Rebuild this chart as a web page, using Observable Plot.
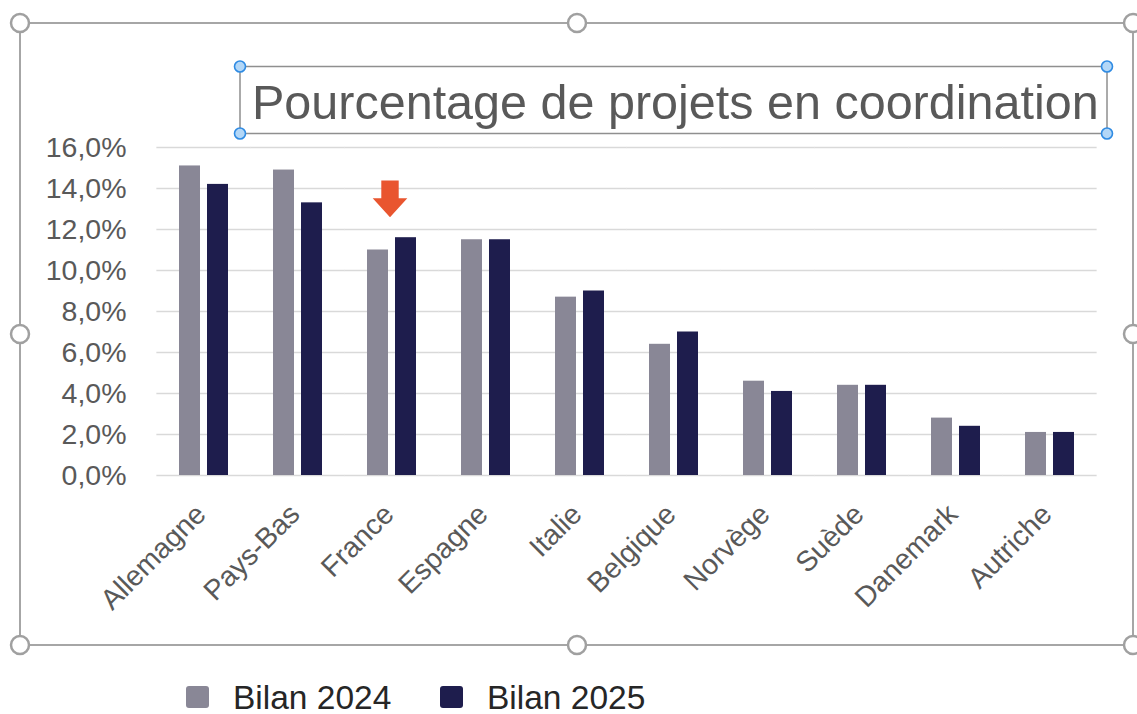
<!DOCTYPE html>
<html>
<head>
<meta charset="utf-8">
<script src="https://cdn.jsdelivr.net/npm/d3@7"></script>
<script src="https://cdn.jsdelivr.net/npm/@observablehq/plot@0.6"></script>
<style>
  html, body { margin: 0; padding: 0; background: #fff; }
  #wrap { position: relative; width: 1137px; height: 714px; overflow: hidden; background: #fff;
          font-family: "Liberation Sans", Arial, sans-serif; }
  #wrap > svg { position: absolute; left: 0; top: 0; }
</style>
</head>
<body>
<div id="wrap"></div>
<script>
// ---- data ----
const countries = ["Allemagne", "Pays-Bas", "France", "Espagne", "Italie", "Belgique", "Norvège", "Suède", "Danemark", "Autriche"];
const series = ["Bilan 2024", "Bilan 2025"];
const values2024 = [15.1, 14.9, 11.0, 11.5, 8.7, 6.4, 4.6, 4.4, 2.8, 2.1];
const values2025 = [14.2, 13.3, 11.6, 11.5, 9.0, 7.0, 4.1, 4.4, 2.4, 2.1];
const yTicks = [0, 2, 4, 6, 8, 10, 12, 14, 16];
const seriesColors = ["#898796", "#1e1d4d"];
const title = "Pourcentage de projets en coordination";
const highlight = [{country: "France", y: 13.5}];

const data = countries.flatMap((c, i) => [
  {country: c, series: series[0], value: values2024[i]},
  {country: c, series: series[1], value: values2025[i]}
]);

const FONT = '"Liberation Sans", Arial, sans-serif';

// layout of the facet bands
const W = 1137, ML = 155, MR = 39;
const padIn = 0.48, padOut = 0.24;
const step = (W - ML - MR) / (countries.length - padIn + 2 * padOut);
const gridExtend = step * padIn / 2; // half of the gap between facets

// down-arrow symbol for the highlight
const arrowSymbol = {
  draw(ctx) {
    ctx.moveTo(-8.7, -18.3);
    ctx.lineTo(8.7, -18.3);
    ctx.lineTo(8.7, -0.5);
    ctx.lineTo(17.3, -0.5);
    ctx.lineTo(0, 18.4);
    ctx.lineTo(-17.3, -0.5);
    ctx.lineTo(-8.7, -0.5);
    ctx.closePath();
  }
};

const chart = Plot.plot({
  width: W,
  height: 645,
  marginTop: 147,
  marginBottom: 170,
  marginLeft: ML,
  marginRight: MR,
  style: {fontFamily: FONT, background: "transparent", overflow: "visible"},
  facet: {marginTop: 0, marginBottom: 0, marginLeft: 0, marginRight: 0},
  fx: {domain: countries, paddingInner: padIn, paddingOuter: padOut, axis: null, label: null},
  x: {domain: series, paddingInner: 0.25, paddingOuter: 0, axis: null},
  y: {domain: [0, 16], axis: null},
  color: {domain: series, range: seriesColors},
  marks: [
    Plot.ruleY(yTicks, {stroke: "#d9d9d9", strokeWidth: 1.6, insetLeft: -gridExtend, insetRight: -gridExtend}),
    Plot.barY(data, {fx: "country", x: "series", y: "value", fill: "series"}),
    Plot.dot(highlight, {fx: "country", y: "y", symbol: arrowSymbol, r: 10, fill: "#e9552f", stroke: null, dx: -2}),
    Plot.axisY({ticks: yTicks, tickFormat: d => d.toFixed(1).replace(".", ",") + "%", tickSize: 0, tickPadding: 53,
                fontSize: 28.5, fill: "#595959", label: null}),
    Plot.axisFx({anchor: "bottom", tickRotate: -45, tickSize: 0, tickPadding: 34, dx: -3, fontSize: 28.5,
                 fill: "#595959", label: null})
  ]
});

const wrap = document.getElementById("wrap");
wrap.appendChild(chart);

// ---- overlay: selection frame, title box, legend ----
const svg = d3.select(wrap).append("svg")
  .attr("width", 1137).attr("height", 714)
  .style("font-family", FONT);

svg.append("rect").attr("x", 20).attr("y", 23).attr("width", 1113).attr("height", 622)
  .attr("fill", "none").attr("stroke", "#a6a6a6").attr("stroke-width", 2);
const handles = [[20, 23], [577, 23], [1133, 23], [20, 334], [1133, 334], [20, 645], [577, 645], [1133, 645]];
svg.selectAll("circle.h").data(handles).join("circle").attr("class", "h")
  .attr("cx", d => d[0]).attr("cy", d => d[1]).attr("r", 9)
  .attr("fill", "#fff").attr("stroke", "#a0a0a0").attr("stroke-width", 2.5);

svg.append("rect").attr("x", 240).attr("y", 66.5).attr("width", 867).attr("height", 67)
  .attr("fill", "none").attr("stroke", "#8f8f8f").attr("stroke-width", 1.5);
svg.append("text").attr("x", 252).attr("y", 118.5).attr("font-size", 48.5).attr("fill", "#595959")
  .text(title);
const th = [[240, 66.5], [1107, 66.5], [240, 133.5], [1107, 133.5]];
svg.selectAll("circle.t").data(th).join("circle").attr("class", "t")
  .attr("cx", d => d[0]).attr("cy", d => d[1]).attr("r", 5.5)
  .attr("fill", "#b3d7f7").attr("stroke", "#2f8be3").attr("stroke-width", 1.6);

const legendX = [186, 440];
series.forEach((s, i) => {
  const g = svg.append("g").attr("transform", `translate(${legendX[i]},0)`);
  g.append("rect").attr("x", 0).attr("y", 686).attr("width", 23).attr("height", 22).attr("rx", 3)
    .attr("fill", seriesColors[i]);
  g.append("text").attr("x", 47).attr("y", 708.5).attr("font-size", 33.5).attr("fill", "#262626").text(s);
});
</script>
</body>
</html>
